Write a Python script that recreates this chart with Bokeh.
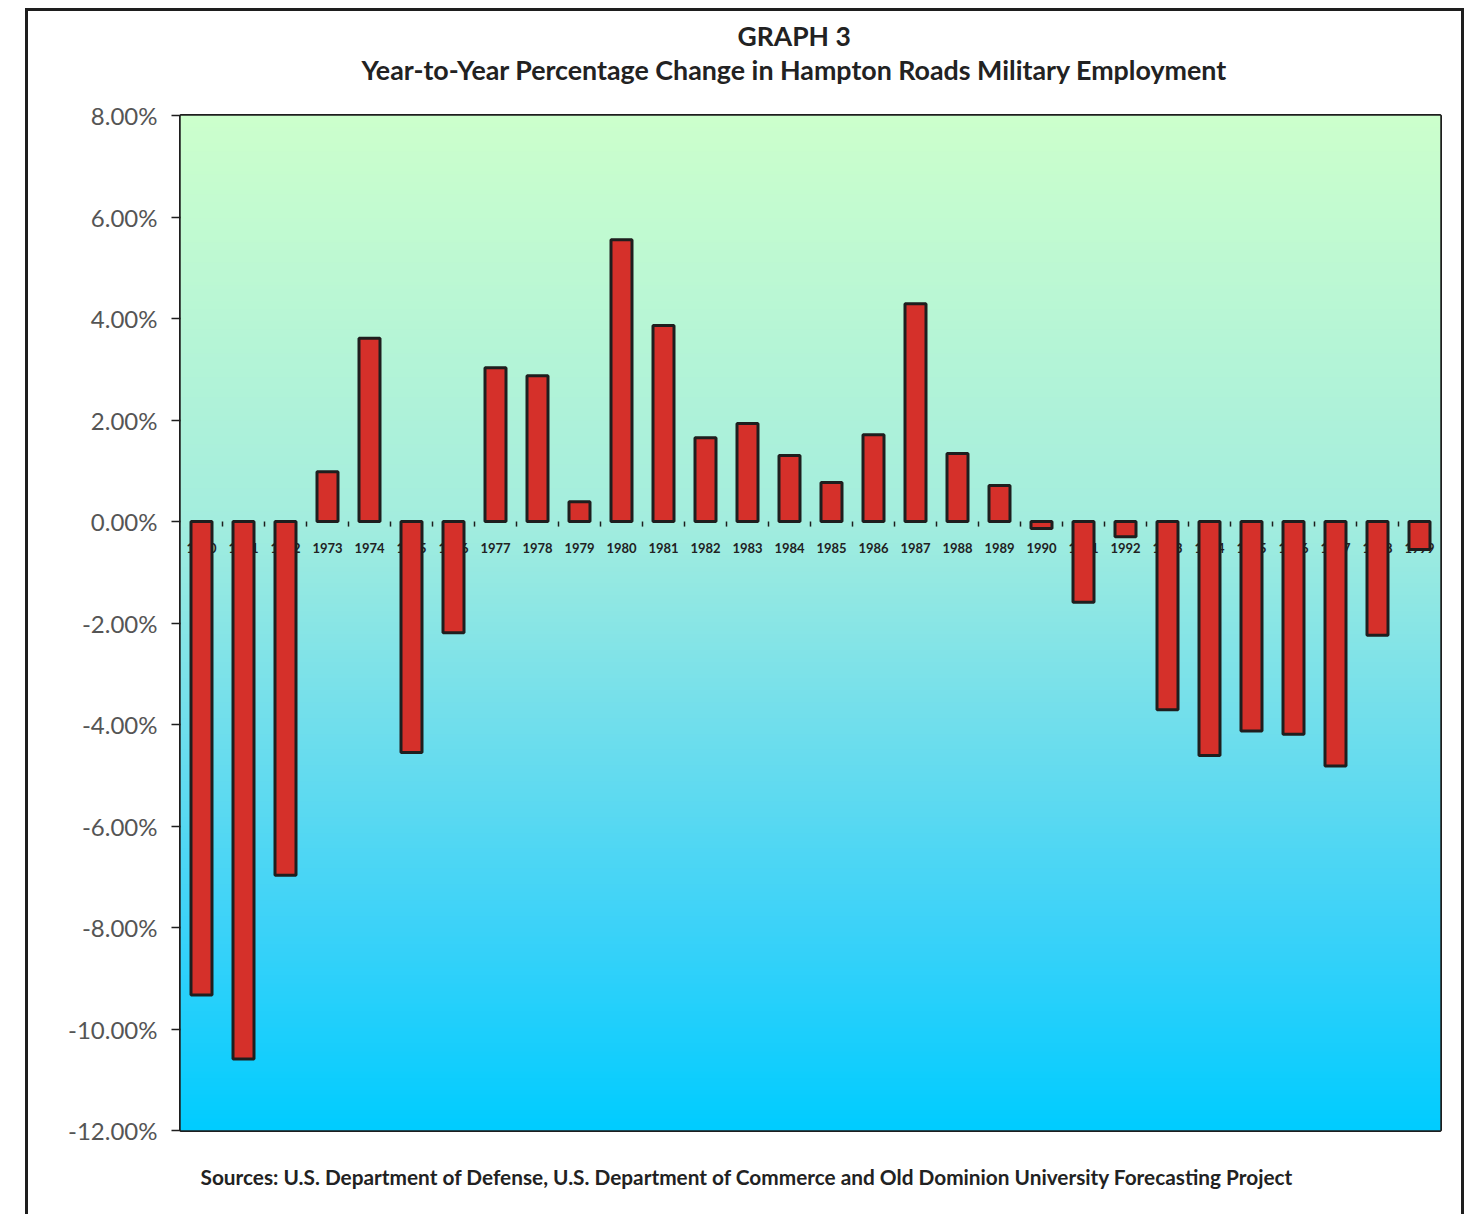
import numpy as np
from bokeh.plotting import figure
from bokeh.models import Range1d, FixedTicker, PrintfTickFormatter, Title
from bokeh.core.properties import value
from bokeh.embed import file_html
from bokeh.resources import INLINE

# ---- data ----
YEARS = [str(y) for y in range(1970, 2000)]
CHANGE_PCT = [-9.33, -10.59, -6.97, 0.98, 3.61, -4.55, -2.19, 3.03, 2.87, 0.39,
              5.55, 3.86, 1.65, 1.93, 1.30, 0.77, 1.71, 4.29, 1.34, 0.71,
              -0.14, -1.59, -0.30, -3.71, -4.61, -4.13, -4.19, -4.82, -2.24, -0.55]
Y_TICKS = [-12, -10, -8, -6, -4, -2, 0, 2, 4, 6, 8]
TITLE = "GRAPH 3"
SUBTITLE = "Year-to-Year Percentage Change in Hampton Roads Military Employment"
SOURCE = "Sources: U.S. Department of Defense, U.S. Department of Commerce and Old Dominion University Forecasting Project"

Y_MIN, Y_MAX = Y_TICKS[0], Y_TICKS[-1]
N = len(YEARS)
centers = [i + 0.5 for i in range(N)]
boundaries = list(range(1, N))
TICK_LEN = 0.1  # small category tick length below the zero line (style)

BOX = "3px solid #1e1e1e"
p = figure(frame_width=1260, frame_height=1015,
           min_border_left=152, min_border_top=104, min_border_right=21, min_border_bottom=84,
           x_range=Range1d(0, N), y_range=Range1d(Y_MIN, Y_MAX),
           output_backend="svg", toolbar_location=None, tools="")
p.styles = {"border-top": BOX, "border-left": BOX, "border-right": BOX,
            "margin-left": "25px", "margin-top": "8px"}

# gradient background (style only)
H = 256
img = np.empty((H, 1), dtype=np.uint32)
view = img.view(dtype=np.uint8).reshape((H, 1, 4))
stops_t = [0.0, 0.4, 0.6, 0.8, 1.0]
stops_c = np.array([(204, 255, 204), (163, 237, 222), (112, 222, 236), (60, 210, 248), (0, 204, 255)], dtype=float)
for i in range(H):
    t = 1.0 - i / (H - 1)
    for k in range(3):
        view[i, 0, k] = int(round(np.interp(t, stops_t, stops_c[:, k])))
    view[i, 0, 3] = 255
p.image_rgba(image=[img], x=0, y=Y_MIN, dw=N, dh=Y_MAX - Y_MIN)

# year labels under the bars
p.text(x=centers, y=[0] * N, text=YEARS, y_offset=26,
       text_align="center", text_baseline="middle",
       text_font=value("Lato"), text_font_style="bold", text_font_size="13px",
       text_color="#222222")

# category ticks below zero line
p.segment(x0=boundaries, y0=[0] * len(boundaries), x1=boundaries,
          y1=[-TICK_LEN] * len(boundaries), line_color="#1e1e1e", line_width=1.5)

p.vbar(x=centers, top=CHANGE_PCT, bottom=0, width=0.5,
       fill_color="#d5302a", line_color="#1e1e1e", line_width=3)

# grid
p.xgrid.visible = False
p.ygrid.ticker = FixedTicker(ticks=Y_TICKS)
p.ygrid.grid_line_color = "#1a1a1a"
p.ygrid.grid_line_width = 1.3
p.ygrid.level = "underlay"

# frame
p.outline_line_color = "#1e1e1e"
p.outline_line_width = 3
p.background_fill_color = None
p.border_fill_color = "white"

# y axis
ya = p.yaxis[0]
ya.ticker = FixedTicker(ticks=Y_TICKS)
ya.formatter = PrintfTickFormatter(format="%.2f%%")
ya.axis_line_color = None
ya.major_tick_out = 9
ya.major_tick_in = 0
ya.major_tick_line_color = "#1e1e1e"
ya.major_tick_line_width = 1.5
ya.minor_tick_line_color = None
ya.major_label_standoff = 14
ya.major_label_text_font = "Lato"
ya.major_label_text_font_size = "24px"
ya.major_label_text_color = "#555555"

p.xaxis.visible = False

# titles: p.title sits farthest from the frame, the added one closest
p.title.text = TITLE
p.title.align = "left"
p.title.offset = 557
p.title.vertical_align = "bottom"
p.title.standoff = 13
p.title.text_font = "Lato"
p.title.text_font_style = "bold"
p.title.text_font_size = "26.5px"
p.title.text_color = "#222222"

p.add_layout(Title(text=SUBTITLE + "\n", align="left", offset=181, vertical_align="bottom",
                   standoff=-12, text_line_height=1.10, text_font="Lato",
                   text_font_style="bold", text_font_size="26.8px", text_color="#222222"), "above")

p.add_layout(Title(text="\n" + SOURCE, align="left", offset=20, standoff=0,
                   vertical_align="top", text_line_height=1.33, text_font="Lato",
                   text_font_style="bold", text_font_size="20.8px", text_color="#222222"), "below")

open("out.html", "w").write(file_html(p, INLINE))
